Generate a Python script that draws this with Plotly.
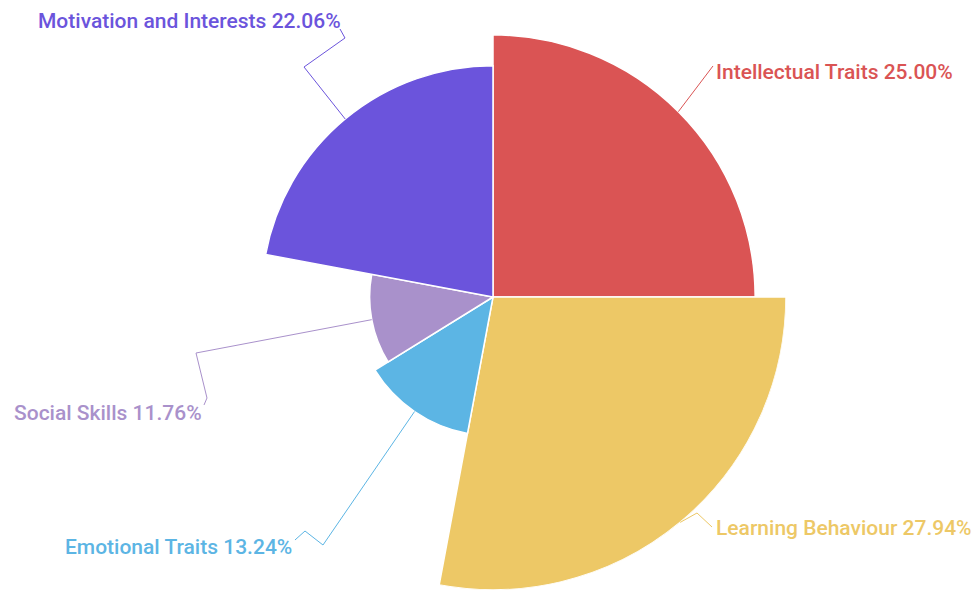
import plotly.graph_objects as go

# ---- data ----
categories = ["Intellectual Traits", "Learning Behaviour", "Emotional Traits",
              "Social Skills", "Motivation and Interests"]
counts = [17, 19, 9, 8, 15]
colors = ["#DA5454", "#EDC866", "#5CB5E4", "#A991CB", "#6B54DC"]

# ---- layout constants ----
W, H = 976, 590
CX, CY = 493, 297          # pixel centre of the rose
RPX = 293                  # pixel radius for the maximum value

# label anchors (pixels) and intermediate leader-line points
label_pos = {
    "Intellectual Traits": (714, 72, "left"),
    "Learning Behaviour": (714, 528, "left"),
    "Emotional Traits": (294, 547, "right"),
    "Social Skills": (204, 413, "right"),
    "Motivation and Interests": (343, 21, "right"),
}
leader_mid = {
    "Intellectual Traits": [(713, 66)],
    "Learning Behaviour": [(697, 513), (712, 527)],
    "Emotional Traits": [(323, 545), (305, 531), (295, 540)],
    "Social Skills": [(196, 353), (207, 398), (204, 405)],
    "Motivation and Interests": [(304, 67), (345, 38), (340, 29)],
}

import math
total = sum(counts)
maxv = max(counts)
widths = [c * 360 / total for c in counts]
mids = []
acc = 0
for w in widths:
    mids.append(acc + w / 2)
    acc += w

fig = go.Figure()
fig.add_trace(go.Barpolar(
    r=counts, theta=mids, width=widths,
    marker=dict(color=colors, line=dict(color="white", width=1.5)),
    hoverinfo="skip",
))

dom_x = [(CX - RPX) / W, (CX + RPX) / W]
dom_y = [(H - CY - RPX) / H, (H - CY + RPX) / H]

fig.update_layout(
    width=W, height=H,
    margin=dict(l=0, r=0, t=0, b=0),
    paper_bgcolor="white",
    showlegend=False,
    polar=dict(
        domain=dict(x=dom_x, y=dom_y),
        bgcolor="rgba(0,0,0,0)",
        hole=0,
        radialaxis=dict(range=[0, maxv], visible=False, showgrid=False),
        angularaxis=dict(rotation=90, direction="clockwise", visible=False,
                         showgrid=False, showline=False, showticklabels=False),
    ),
)

def px2paper(x, y):
    return x / W, 1 - y / H

for cat, c, m, col in zip(categories, counts, mids, colors):
    rp = c / maxv * RPX
    ang = math.radians(m)
    ex, ey = CX + rp * math.sin(ang), CY - rp * math.cos(ang)
    pts = [(ex, ey)] + leader_mid[cat]
    path = ""
    for i, (x, y) in enumerate(pts):
        px, py = px2paper(x, y)
        path += ("M" if i == 0 else "L") + f"{px:.5f},{py:.5f} "
    fig.add_shape(type="path", path=path.strip(), xref="paper", yref="paper",
                  line=dict(color=col, width=1))
    lx, ly, anchor = label_pos[cat]
    ax, ay = px2paper(lx, ly)
    fig.add_annotation(
        x=ax, y=ay, xref="paper", yref="paper", showarrow=False,
        xanchor=anchor, yanchor="middle",
        text=f"{cat} {c / total * 100:.2f}%",
        font=dict(family="Roboto", size=21, color=col, weight=500),
    )

fig.write_html("out.html")
